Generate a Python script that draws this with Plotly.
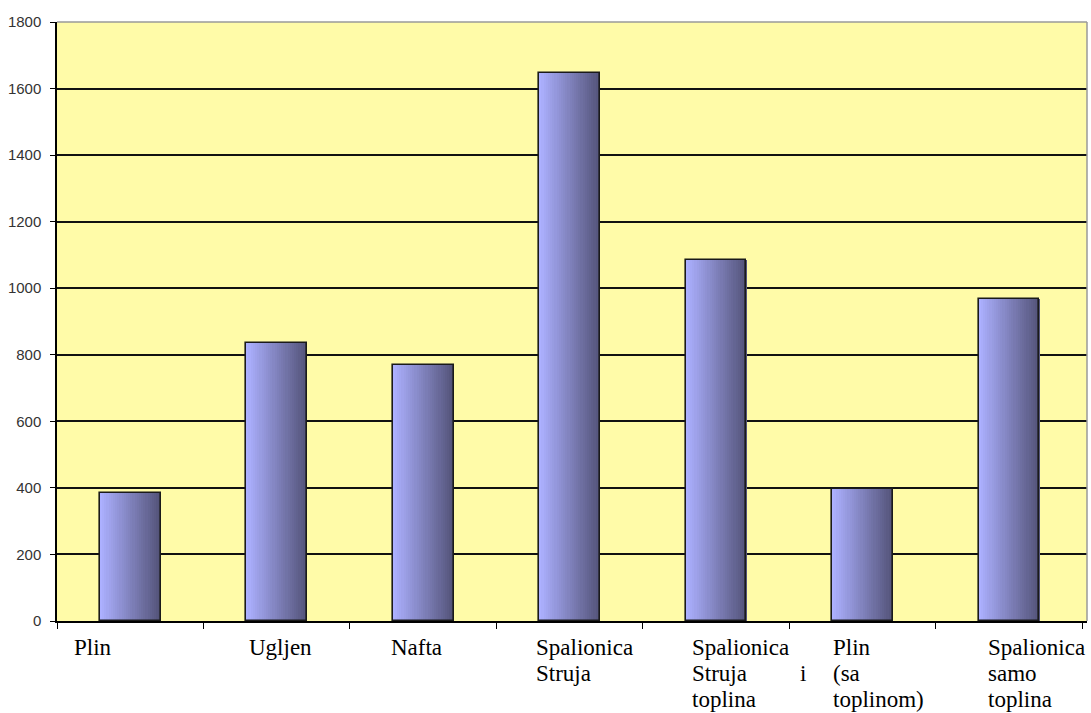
import plotly.graph_objects as go

# Chart data
categories = [
    "Plin",
    "Ugljen",
    "Nafta",
    "Spalionica Struja",
    "Spalionica Struja i toplina",
    "Plin (sa toplinom)",
    "Spalionica samo toplina",
]
values = [384, 835, 769, 1647, 1085, 397, 968]

# Wrapped axis labels (one list of lines per category)
label_lines = [
    ["Plin"],
    ["Ugljen"],
    ["Nafta"],
    ["Spalionica", "Struja"],
    ["Spalionica", "Struja", "toplina"],
    ["Plin", "(sa", "toplinom)"],
    ["Spalionica", "samo", "toplina"],
]
y_ticks = [0, 200, 400, 600, 800, 1000, 1200, 1400, 1600, 1800]

# Styling
BAR_WIDTH = 0.415
N_STRIPES = 28
LIGHT = (172, 176, 255)
DARK = (84, 84, 122)
PLOT_BG = "#FFFBA8"
LABEL_FONT = dict(family="Liberation Serif", size=23, color="#000")
# horizontal offset of each label's left edge from the category centre (px)
label_xshift = [-58, -30, -34, -36, -26, -32, -23]

fig = go.Figure()

# Horizontal gradient fill built from thin vertical stripes of each bar
stripe_w = BAR_WIDTH / N_STRIPES
for i in range(N_STRIPES):
    t = i / (N_STRIPES - 1)
    c = tuple(round(LIGHT[k] + (DARK[k] - LIGHT[k]) * t) for k in range(3))
    fig.add_trace(go.Bar(
        x=categories,
        y=values,
        width=stripe_w * 1.08,
        offset=-BAR_WIDTH / 2 + i * stripe_w,
        marker=dict(color="rgb(%d,%d,%d)" % c, line=dict(width=0)),
        hoverinfo="skip",
        showlegend=False,
    ))

# Bar outlines
fig.add_trace(go.Bar(
    x=categories,
    y=values,
    width=BAR_WIDTH,
    marker=dict(color="rgba(0,0,0,0)", line=dict(color="#1a1a1a", width=1.6)),
    showlegend=False,
))

# Category labels below the axis
line_yshift = [-26, -52, -78]
annotations = []
for idx, lines in enumerate(label_lines):
    for j, line in enumerate(lines):
        annotations.append(dict(
            x=categories[idx], xref="x", y=0, yref="paper",
            text=line, showarrow=False,
            xanchor="left", yanchor="middle",
            xshift=label_xshift[idx], yshift=line_yshift[j],
            font=LABEL_FONT,
        ))
# justified second line of the fifth label ("Struja ... i")
annotations.append(dict(
    x=categories[4], xref="x", y=0, yref="paper",
    text="i", showarrow=False, xanchor="left", yanchor="middle",
    xshift=82, yshift=line_yshift[1], font=LABEL_FONT,
))

fig.update_layout(
    width=1091, height=713,
    margin=dict(l=57, r=4, t=22, b=92),
    paper_bgcolor="white",
    plot_bgcolor=PLOT_BG,
    barmode="overlay",
    bargap=0,
    annotations=annotations,
    shapes=[
        # top and right plot border
        dict(type="line", xref="paper", yref="paper", x0=0, x1=1, y0=1, y1=1,
             line=dict(color="#9a9a9a", width=1.5)),
        dict(type="line", xref="paper", yref="paper", x0=1, x1=1, y0=0, y1=1,
             line=dict(color="#9a9a9a", width=1.5)),
    ],
)

fig.update_xaxes(
    type="category",
    categoryorder="array", categoryarray=categories,
    showticklabels=False,
    tickson="boundaries",
    ticks="outside", ticklen=6, tickwidth=1.3, tickcolor="#000",
    showline=True, linecolor="#000", linewidth=1.5,
    showgrid=False, zeroline=False,
)

fig.update_yaxes(
    range=[0, 1800],
    tickvals=y_ticks,
    ticktext=[str(v) for v in y_ticks],
    ticks="outside", ticklen=5, tickwidth=1.3, tickcolor="#000",
    ticklabelstandoff=6,
    tickfont=dict(family="Liberation Sans", size=15, color="#333"),
    showline=True, linecolor="#000", linewidth=1.5,
    showgrid=True, gridcolor="#111", gridwidth=1.5,
    zeroline=False,
)

fig.write_html("out.html")
